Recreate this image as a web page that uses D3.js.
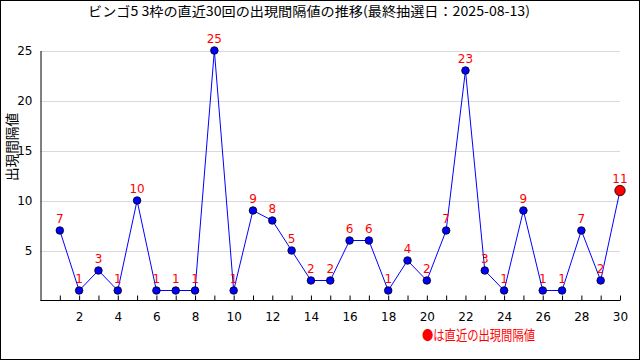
<!DOCTYPE html>
<html><head><meta charset="utf-8">
<script src="https://cdn.jsdelivr.net/npm/d3@7"></script>
<style>body{margin:0;background:#fff}svg{display:block}text{font-family:"Noto Sans CJK JP","DejaVu Sans",sans-serif}</style>
</head><body>
<script>
const title = "ビンゴ5 3枠の直近30回の出現間隔値の推移(最終抽選日：2025-08-13)";
const yLabel = "出現間隔値";
const legendText = "●は直近の出現間隔値";
const draws = d3.range(1, 31);
const values = [7,1,3,1,10,1,1,1,25,1,9,8,5,2,2,6,6,1,4,2,7,23,3,1,9,1,1,7,2,11];
const yTicks = [5,10,15,20,25];
const xTickLabels = [2,4,6,8,10,12,14,16,18,20,22,24,26,28,30];

const W = 640, H = 360;
const svg = d3.select("body").append("svg").attr("width", W).attr("height", H);
svg.append("rect").attr("x",0.5).attr("y",0.5).attr("width",W-1).attr("height",H-1).attr("fill","#fff").attr("stroke","#000");

const x = d3.scaleLinear().domain([0,30]).range([40.5,620]);
const y = d3.scaleLinear().domain([0,25]).range([300.5,50.5]);

svg.append("text").attr("x",309).attr("y",16).attr("text-anchor","middle").attr("font-size",13)
  .attr("textLength",442).attr("lengthAdjust","spacingAndGlyphs").text(title);

// grid
svg.append("g").selectAll("line").data(yTicks).join("line")
  .attr("x1",40.5).attr("x2",620).attr("y1",d=>Math.round(y(d))+0.5).attr("y2",d=>Math.round(y(d))+0.5)
  .attr("stroke","#d9d9d9");

// y axis
const ya = svg.append("g").attr("transform","translate(40.5,0)")
  .call(d3.axisLeft(y).tickValues(yTicks).tickSize(0).tickPadding(8));
ya.select(".domain").attr("stroke","#000");
ya.selectAll("text").attr("font-size",12).attr("fill","#000").style("font-family",'"DejaVu Sans",sans-serif');

// x axis
const xa = svg.append("g").attr("transform","translate(0,300.5)")
  .call(d3.axisBottom(x).tickValues(draws).tickSize(-5).tickPadding(10).tickFormat(d=> xTickLabels.includes(d)? d : ""));
xa.select(".domain").attr("stroke","#000").attr("d","M40.5,0H620");
xa.selectAll("line").attr("stroke","#000");
xa.selectAll("text").attr("font-size",12).attr("fill","#000").attr("dy","0.9em").style("font-family",'"DejaVu Sans",sans-serif');

svg.append("text").attr("transform","translate(17,147) rotate(-90)").attr("text-anchor","middle")
  .attr("font-size",14).attr("textLength",68).attr("lengthAdjust","spacingAndGlyphs").text(yLabel);

const line = d3.line().x((d,i)=>x(draws[i])).y(d=>y(d));
svg.append("path").datum(values).attr("d",line).attr("fill","none").attr("stroke","#0000ff").attr("stroke-width",1);

svg.append("g").selectAll("circle").data(values).join("circle")
  .attr("cx",(d,i)=>x(draws[i])).attr("cy",d=>y(d))
  .attr("r",(d,i)=> i===values.length-1 ? 5.2 : 3.8)
  .attr("fill",(d,i)=> i===values.length-1 ? "#ff0000" : "#0000ff")
  .attr("stroke","#000").attr("stroke-width",0.8);

svg.append("g").selectAll("text").data(values).join("text")
  .attr("x",(d,i)=>x(draws[i])).attr("y",d=>y(d)-8)
  .attr("text-anchor","middle").attr("font-size",12).attr("fill","#ff0000")
  .style("font-family",'"DejaVu Sans",sans-serif').text(d=>d);

svg.append("text").attr("x",535).attr("y",340).attr("text-anchor","end").attr("font-size",13.5)
  .attr("textLength",113).attr("lengthAdjust","spacingAndGlyphs")
  .attr("fill","#ff0000").text(legendText);
</script>
</body></html>
